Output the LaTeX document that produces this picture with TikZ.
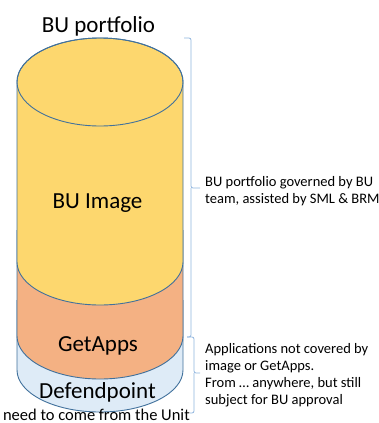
\documentclass[tikz,border=0pt]{standalone}
\usepackage{fontspec}
\setmainfont{Carlito}
\usepackage{xcolor}
\usepackage{tikz}
\usetikzlibrary{positioning}
\definecolor{imagegold}{RGB}{253,215,110}
\definecolor{appsorange}{RGB}{244,177,131}
\definecolor{defendblue}{RGB}{222,235,247}
\definecolor{rimblue}{RGB}{65,113,156}
\definecolor{bracketblue}{RGB}{143,180,222}

\begin{document}
\begin{tikzpicture}[x=1pt,y=-1pt,
    rim/.style={draw=rimblue, line width=0.9pt},
    brace/.style={draw=bracketblue, line width=0.8pt, rounded corners=2pt},
    bigtext/.style={inner sep=0pt, font=\fontsize{23}{27}\selectfont},
    note/.style={inner sep=0pt, align=left, font=\fontsize{14.5}{17}\selectfont}]
    \useasboundingbox (0,0) rectangle (379,423);

    % Defendpoint layer (bottom)
    \path[rim, fill=defendblue] (17,300) -- (17,370)
        arc[start angle=180, end angle=360, x radius=83pt, y radius=42pt] -- (183,300);

    % GetApps layer
    \path[rim, fill=appsorange] (17,230) -- (17,336)
        arc[start angle=180, end angle=360, x radius=83pt, y radius=43pt] -- (183,230);

    % BU Image layer with top
    \path[rim, fill=imagegold] (17,82) -- (17,262)
        arc[start angle=180, end angle=360, x radius=83pt, y radius=43pt] -- (183,82)
        arc[start angle=0, end angle=180, x radius=83pt, y radius=44pt] -- cycle;
    \draw[rim] (100,82) ellipse[x radius=83pt, y radius=44pt];

    % Labels on the cylinder
    \node[bigtext, anchor=base] (title) at (98.5,32) {BU portfolio};
    \node[bigtext, anchor=base] (image) at (97.5,208) {BU Image};
    \node[bigtext, anchor=base] (apps) at (98,351) {GetApps};
    \node[bigtext, anchor=base] (defend) at (97.5,398) {Defendpoint};
    \node[inner sep=0pt, font=\fontsize{16.5}{19}\selectfont, anchor=base east] (unit) at (190,420) {need to come from the Unit};

    % Braces
    \draw[brace] (184,38) -- (191,38) -- (191,188) -- (200,188);
    \draw[brace] (191,188) -- (191,337) -- (187,337);
    \draw[brace] (187,337) -- (194,337) -- (194,373) -- (200,373);
    \draw[brace] (194,373) -- (194,413) -- (190,413);

    % Notes
    \node[note, anchor=base west] (govern) at (205,203) {BU portfolio governed by BU\\team, assisted by SML \& BRM};
    \node[note, anchor=base west] (outside) at (205,404) {Applications not covered by\\image or GetApps.\\From \dots{} anywhere, but still\\subject for BU approval};
\end{tikzpicture}
\end{document}
